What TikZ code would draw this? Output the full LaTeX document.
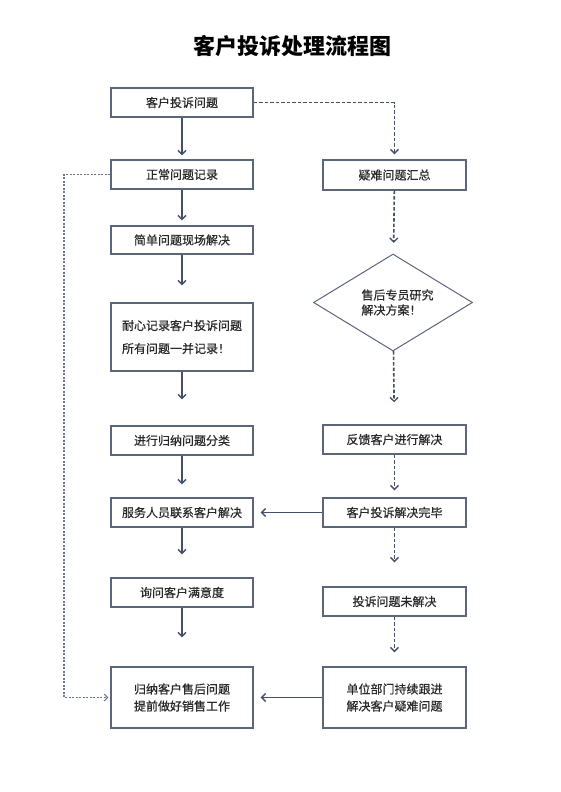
\documentclass[tikz,border=0pt]{standalone}
\usepackage{fontspec}
\setmainfont{Noto Sans CJK SC}[FakeBold=0.6]
\newfontfamily\titlefont{Noto Sans CJK SC}
\usetikzlibrary{arrows.meta,shapes.geometric,calc}
\definecolor{boxc}{RGB}{92,102,122}
\definecolor{arrc}{RGB}{68,80,104}
\definecolor{loopc}{RGB}{110,120,140}
\definecolor{txtc}{RGB}{40,40,40}
\begin{document}
\begin{tikzpicture}[x=1pt,y=-1pt,
  box/.style={draw=boxc,line width=1.4pt,rectangle,minimum width=142pt,inner sep=0pt,
    text=txtc,font=\fontsize{12}{12}\selectfont,align=center},
  dia/.style={draw=boxc,line width=1pt,diamond,minimum width=159pt,minimum height=97pt,inner sep=0pt,
    aspect=1.64,text=txtc,font=\fontsize{12}{15}\selectfont,align=left},
  arr/.style={draw=arrc,line width=1.7pt,-{Straight Barb[length=4pt,width=8pt,line width=1.3pt]}},
  darr/.style={arr,line width=1.6pt,dash pattern=on 3.5pt off 2pt},
  larr/.style={draw=loopc,line width=1.2pt,dash pattern=on 2pt off 1.5pt,-{Straight Barb[length=3.5pt,width=7pt,line width=1pt]}}
]
\useasboundingbox (0,0) rectangle (560,792);
\node[font=\titlefont\fontsize{22}{22}\selectfont\bfseries,text=black] (title) at (292,46) {客户投诉处理流程图};

\node[box,minimum height=29pt] (L1) at (182,102.5) {客户投诉问题};
\node[box,minimum height=29pt] (L2) at (182,174.5) {正常问题记录};
\node[box,minimum height=28pt] (L3) at (182,240) {简单问题现场解决};
\node[box,minimum height=68pt,font=\fontsize{12}{23}\selectfont,align=left] (L4) at (182,337) {耐心记录客户投诉问题\\所有问题一并记录！};
\node[box,minimum height=29pt] (L5) at (182,440.5) {进行归纳问题分类};
\node[box,minimum height=29pt] (L6) at (182,512.5) {服务人员联系客户解决};
\node[box,minimum height=29pt] (L7) at (182,592.5) {询问客户满意度};
\node[box,minimum height=61pt,font=\fontsize{12}{17}\selectfont] (L8) at (182,697.5) {归纳客户售后问题\\提前做好销售工作};

\node[box,minimum width=143pt,minimum height=30pt] (R1) at (394.5,175) {疑难问题汇总};
\node[dia] (D) at (393,302.5) {\hspace*{9pt}售后专员研究\\\hspace*{9pt}解决方案！};
\node[box,minimum width=143pt,minimum height=29pt] (R2) at (394.5,439.5) {反馈客户进行解决};
\node[box,minimum width=143pt,minimum height=29pt] (R3) at (394.5,512.5) {客户投诉解决完毕};
\node[box,minimum width=143pt,minimum height=29pt] (R4) at (394.5,601.5) {投诉问题未解决};
\node[box,minimum width=143pt,minimum height=61pt,font=\fontsize{12}{17}\selectfont] (R5) at (394.5,697.5) {单位部门持续跟进\\解决客户疑难问题};

\draw[arr,shorten >=4pt] (L1) -- (L2);
\draw[arr,shorten >=5pt] (L2) -- (L3);
\draw[arr,shorten >=17pt] (L3) -- (L4);
\draw[arr,shorten >=26pt] (L4) -- (L5);
\draw[arr,shorten >=13pt] (L5) -- (L6);
\draw[arr,shorten >=23pt] (L6) -- (L7);
\draw[arr,shorten >=29pt] (L7) -- (L8);

\draw[darr,shorten >=5pt] (L1.east) -| (R1.north);
\draw[darr,shorten >=11pt] (R1) -- (D);
\draw[darr,shorten >=22pt] (D) -- (R2);
\draw[darr,shorten >=7pt] (R2) -- (R3);
\draw[darr,shorten >=24pt] (R3) -- (R4);
\draw[darr,shorten >=14pt] (R4) -- (R5);

\draw[arr,shorten >=7pt] (R3) -- (L6);
\draw[arr,shorten >=7pt] (R5) -- (L8);

\coordinate (lp) at (64,174.5);
\draw[larr,shorten >=2pt] (L2.west) -- (lp) |- (L8.west);
\end{tikzpicture}
\end{document}
